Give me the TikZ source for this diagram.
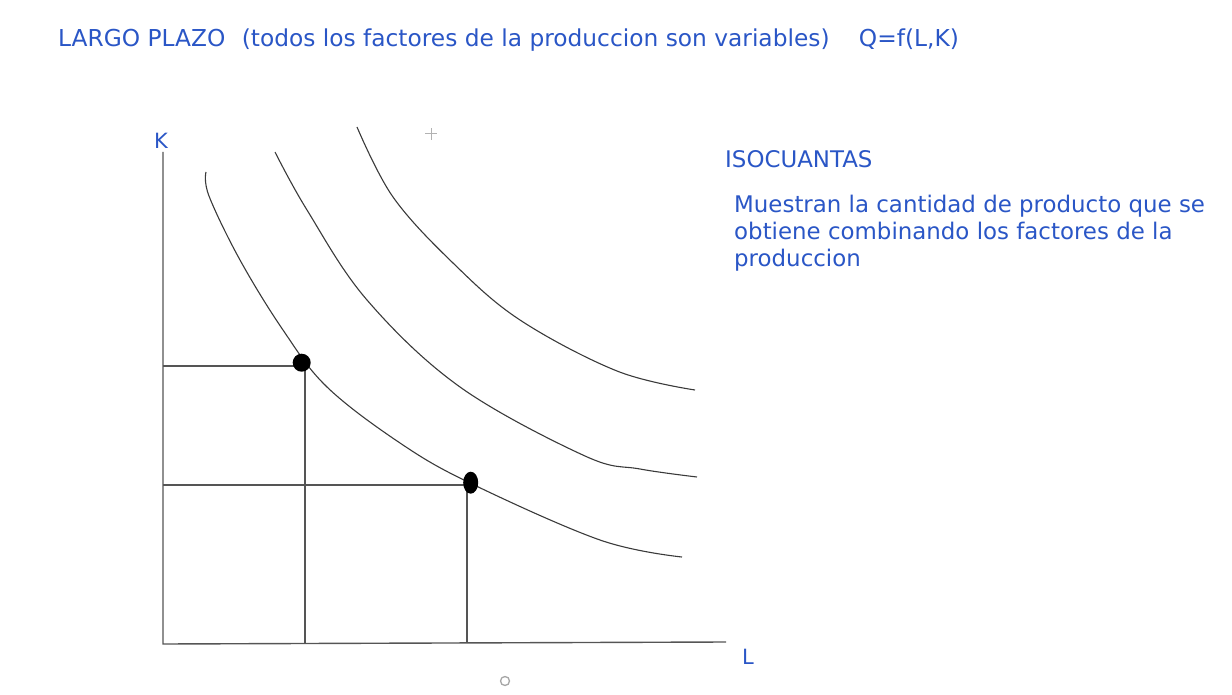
\documentclass[tikz,border=0pt]{standalone}
\usepackage{fontspec}
\setmainfont{DejaVu Sans}
\usepackage{xcolor}
\usepackage{tikz}
\usetikzlibrary{positioning,shapes.geometric}
\definecolor{inkblue}{HTML}{2A56C6}
\definecolor{penline}{HTML}{3A3A3A}
\definecolor{axisgray}{HTML}{555555}

\begin{document}
\begin{tikzpicture}[
 x=1pt,y=-1pt,
 heading/.style={inner sep=0pt,text=inkblue,font=\fontsize{23.3}{28}\selectfont,anchor=base west},
 note/.style={inner sep=0pt,text=inkblue,font=\fontsize{22.9}{27}\selectfont,anchor=base west},
 axislabel/.style={inner sep=0pt,text=inkblue,font=\fontsize{21}{24}\selectfont},
 axis/.style={draw=axisgray,line width=1.4pt},
 guide/.style={draw=axisgray,line width=1.3pt},
 isoq/.style={draw=penline,line width=1.1pt,smooth,tension=0.6},
 dot/.style={circle,fill=black,inner sep=0pt,minimum size=18pt},
 oval/.style={ellipse,fill=black,inner sep=0pt,minimum width=15pt,minimum height=22pt}
]
\useasboundingbox (0,0) rectangle (1232,695);

% title
\node[heading] (title) at (58,47) {LARGO PLAZO\hspace{9pt} (todos los factores de la produccion son variables)\hspace{22pt} Q=f(L,K)};

% axes
\coordinate (origin) at (163,644);
\coordinate (ktop) at (163,152);
\coordinate (lend) at (726,642);
\draw[axis] (ktop) -- (origin) -- (lend);
\node[axislabel] (klabel) at (161,141) {K};
\node[axislabel] (llabel) at (748,657) {L};

% isoquants
\draw[isoq] plot coordinates {(206,172) (209,196) (240,260) (283,330) (327,387) (400,443) (470,483) (600,540) (682,557)};
\draw[isoq] plot coordinates {(275,152) (307,210) (367,300) (460,387) (585,456) (640,469) (697,477)};
\draw[isoq] plot coordinates {(357,127) (393,197) (453,263) (520,320) (617,371) (695,390)};

% combinations
\coordinate (k1) at (163,366);
\coordinate (l1) at (305,643);
\coordinate (k2) at (163,485);
\coordinate (l2) at (467,643);
\draw[guide] (k1) -| (l1);
\draw[guide] (k2) -| (l2);
\node[dot] (combo1) at (301.7,362.7) {};
\node[oval] (combo2) at (470.7,482.7) {};

% text at right
\node[note] (isoc) at (725,167.5) {ISOCUANTAS};
\node[note] (line1) at (734,213) {Muestran la cantidad de producto que se};
\node[note] (line2) at ([yshift=-27pt]line1.base west) {obtiene combinando los factores de la};
\node[note] (line3) at ([yshift=-27pt]line2.base west) {produccion};

% cursor marks
\coordinate (cursor) at (431,134);
\draw[gray!60,line width=1pt] ([xshift=-6pt]cursor) -- ([xshift=6pt]cursor);
\draw[gray!60,line width=1pt] ([yshift=-6pt]cursor) -- ([yshift=6pt]cursor);
\coordinate (pointer) at (505,681);
\draw[gray!70,line width=1.3pt] (pointer) circle (4.5);
\end{tikzpicture}
\end{document}
